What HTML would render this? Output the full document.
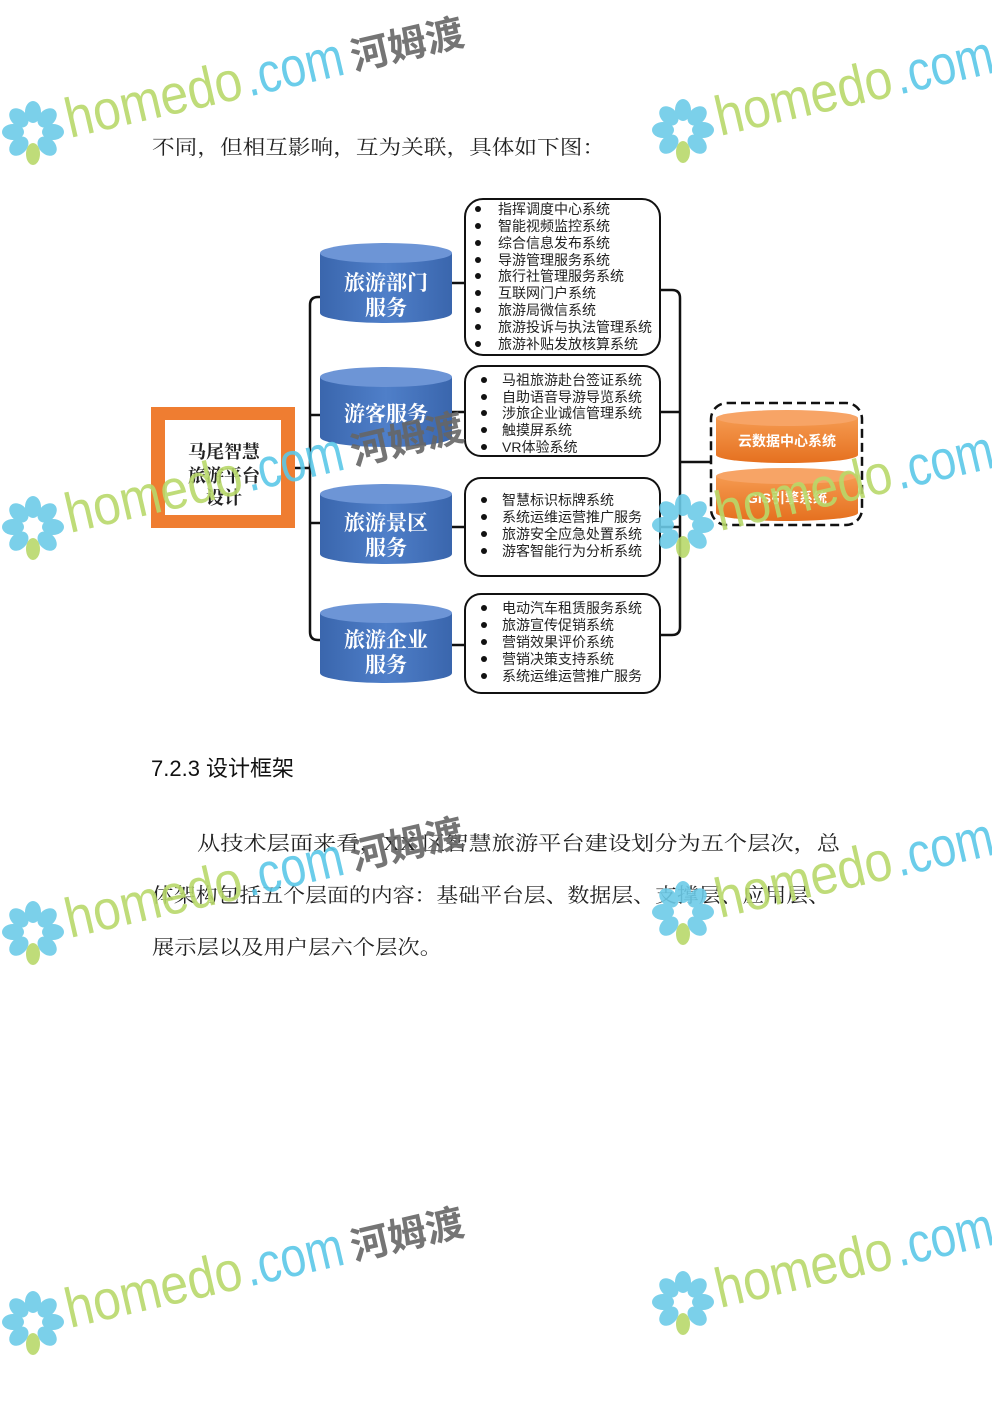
<!DOCTYPE html>
<html><head><meta charset="utf-8"><style>
html,body{margin:0;padding:0;background:#fff;}
body{width:992px;height:1403px;position:relative;overflow:hidden;}
svg{position:absolute;left:0;top:0;}
.s{font-family:"Liberation Serif","Noto Serif CJK SC",serif;}
.a{font-family:"Liberation Sans","Noto Sans CJK SC",sans-serif;}
</style></head><body>
<svg width="992" height="1403" viewBox="0 0 992 1403">
<defs>
<linearGradient id="bl" x1="0" x2="1" y1="0" y2="0">
<stop offset="0" stop-color="#3a66ad"/><stop offset="0.5" stop-color="#4f7fc9"/><stop offset="1" stop-color="#3a66ad"/></linearGradient>
<linearGradient id="or" x1="0" x2="0" y1="0" y2="1">
<stop offset="0" stop-color="#f59a50"/><stop offset="1" stop-color="#e5701f"/></linearGradient>
<g id="flower">
<g fill="#6ccbe8">
<ellipse cx="0" cy="-20" rx="8" ry="11"/>
<ellipse cx="0" cy="-20" rx="8" ry="11" transform="rotate(45)"/>
<ellipse cx="0" cy="-20" rx="8" ry="11" transform="rotate(90)"/>
<ellipse cx="0" cy="-20" rx="8" ry="11" transform="rotate(135)"/>
<ellipse cx="0" cy="-20" rx="8" ry="11" transform="rotate(225)"/>
<ellipse cx="0" cy="-20" rx="8" ry="11" transform="rotate(270)"/>
<ellipse cx="0" cy="-20" rx="8" ry="11" transform="rotate(315)"/>
</g>
<ellipse cx="0" cy="22" rx="7" ry="11" fill="#b8d86a"/>
</g>
<g id="wmL" class="a">
<text font-size="56" fill="#b8d86a" textLength="180" lengthAdjust="spacingAndGlyphs">homedo</text>
<text x="184" font-size="56" fill="#5bc8e8" textLength="100" lengthAdjust="spacingAndGlyphs">.com</text>
<text x="292" y="-2" font-size="38" font-weight="bold" fill="#666" textLength="115" lengthAdjust="spacingAndGlyphs">河姆渡</text>
</g>
<g id="wmR" class="a">
<text font-size="56" fill="#b8d86a" textLength="180" lengthAdjust="spacingAndGlyphs">homedo</text>
<text x="184" font-size="56" fill="#5bc8e8" textLength="100" lengthAdjust="spacingAndGlyphs">.com</text>
</g>
</defs>

<!-- body text -->
<text class="s" x="152" y="154" font-size="20" fill="#222" textLength="453" lengthAdjust="spacingAndGlyphs">不同，但相互影响，互为关联，具体如下图：</text>
<text class="a" x="151" y="776" font-size="22" fill="#111">7.2.3 设计框架</text>
<text class="s" x="197" y="850" font-size="20" fill="#222" textLength="643" lengthAdjust="spacingAndGlyphs">从技术层面来看，XX 区智慧旅游平台建设划分为五个层次，总</text>
<text class="s" x="152" y="902" font-size="20" fill="#222" textLength="678" lengthAdjust="spacingAndGlyphs">体架构包括五个层面的内容：基础平台层、数据层、支撑层、应用层、</text>
<text class="s" x="152" y="954" font-size="20" fill="#222" textLength="290" lengthAdjust="spacingAndGlyphs">展示层以及用户层六个层次。</text>

<!-- connectors -->
<g fill="none" stroke="#111" stroke-width="2.5">
<path d="M322 297 H318 Q310 297 310 305 V632 Q310 640 318 640 H322"/>
<line x1="295" y1="468" x2="310" y2="468"/>
<line x1="310" y1="415" x2="322" y2="415"/>
<line x1="310" y1="523" x2="322" y2="523"/>
<line x1="452" y1="283" x2="465" y2="283"/>
<line x1="452" y1="412" x2="465" y2="412"/>
<line x1="452" y1="527" x2="465" y2="527"/>
<line x1="452" y1="645" x2="465" y2="645"/>
<path d="M660 290 H672 Q680 290 680 298 V627 Q680 635 672 635 H660"/>
<line x1="660" y1="412" x2="680" y2="412"/>
<line x1="660" y1="527" x2="680" y2="527"/>
<line x1="680" y1="462" x2="711" y2="462"/>
</g>

<!-- central box -->
<rect x="151" y="407" width="144" height="121" fill="#ef7d31"/>
<rect x="165" y="420" width="116" height="95" fill="#fff"/>
<g class="s" font-size="18" font-weight="bold" fill="#222" text-anchor="middle">
<text x="224" y="458">马尾智慧</text><text x="224" y="482">旅游平台</text><text x="224" y="504">设计</text>
</g>

<!-- cylinders -->
<g>
<path d="M320 253 V313 A66 10 0 0 0 452 313 V253" fill="url(#bl)"/><ellipse cx="386" cy="253" rx="66" ry="10" fill="#6d95d6"/>
<path d="M320 377 V437 A66 10 0 0 0 452 437 V377" fill="url(#bl)"/><ellipse cx="386" cy="377" rx="66" ry="10" fill="#6d95d6"/>
<path d="M320 494 V554 A66 10 0 0 0 452 554 V494" fill="url(#bl)"/><ellipse cx="386" cy="494" rx="66" ry="10" fill="#6d95d6"/>
<path d="M320 613 V673 A66 10 0 0 0 452 673 V613" fill="url(#bl)"/><ellipse cx="386" cy="613" rx="66" ry="10" fill="#6d95d6"/>
</g>
<g class="s" font-size="21" font-weight="bold" fill="#fff" text-anchor="middle">
<text x="386" y="290">旅游部门</text><text x="386" y="315">服务</text>
<text x="386" y="421">游客服务</text>
<text x="386" y="530">旅游景区</text><text x="386" y="555">服务</text>
<text x="386" y="647">旅游企业</text><text x="386" y="672">服务</text>
</g>

<!-- list boxes -->
<g fill="#fff" stroke="#111" stroke-width="2">
<rect x="465" y="199" width="195" height="156" rx="18"/>
<rect x="465" y="366" width="195" height="90" rx="16"/>
<rect x="465" y="478" width="195" height="98" rx="16"/>
<rect x="465" y="594" width="195" height="99" rx="16"/>
</g>
<g class="a" font-size="14" fill="#222">
<g fill="#111"><circle cx="478" cy="209" r="3"/><circle cx="478" cy="226" r="3"/><circle cx="478" cy="243" r="3"/><circle cx="478" cy="260" r="3"/><circle cx="478" cy="276" r="3"/><circle cx="478" cy="293" r="3"/><circle cx="478" cy="310" r="3"/><circle cx="478" cy="327" r="3"/><circle cx="478" cy="344" r="3"/></g>
<text x="498" y="214">指挥调度中心系统</text>
<text x="498" y="231">智能视频监控系统</text>
<text x="498" y="248">综合信息发布系统</text>
<text x="498" y="265">导游管理服务系统</text>
<text x="498" y="281">旅行社管理服务系统</text>
<text x="498" y="298">互联网门户系统</text>
<text x="498" y="315">旅游局微信系统</text>
<text x="498" y="332">旅游投诉与执法管理系统</text>
<text x="498" y="349">旅游补贴发放核算系统</text>
<g fill="#111"><circle cx="484" cy="380" r="3"/><circle cx="484" cy="397" r="3"/><circle cx="484" cy="413" r="3"/><circle cx="484" cy="430" r="3"/><circle cx="484" cy="447" r="3"/></g>
<text x="502" y="385">马祖旅游赴台签证系统</text>
<text x="502" y="402">自助语音导游导览系统</text>
<text x="502" y="418">涉旅企业诚信管理系统</text>
<text x="502" y="435">触摸屏系统</text>
<text x="502" y="452">VR体验系统</text>
<g fill="#111"><circle cx="484" cy="500" r="3"/><circle cx="484" cy="517" r="3"/><circle cx="484" cy="534" r="3"/><circle cx="484" cy="551" r="3"/></g>
<text x="502" y="505">智慧标识标牌系统</text>
<text x="502" y="522">系统运维运营推广服务</text>
<text x="502" y="539">旅游安全应急处置系统</text>
<text x="502" y="556">游客智能行为分析系统</text>
<g fill="#111"><circle cx="484" cy="608" r="3"/><circle cx="484" cy="625" r="3"/><circle cx="484" cy="642" r="3"/><circle cx="484" cy="659" r="3"/><circle cx="484" cy="676" r="3"/></g>
<text x="502" y="613">电动汽车租赁服务系统</text>
<text x="502" y="630">旅游宣传促销系统</text>
<text x="502" y="647">营销效果评价系统</text>
<text x="502" y="664">营销决策支持系统</text>
<text x="502" y="681">系统运维运营推广服务</text>
</g>

<!-- dashed box -->
<rect x="711" y="403" width="151" height="122" rx="16" fill="#fff" stroke="#111" stroke-width="2.5" stroke-dasharray="9,5"/>
<path d="M716 418 V455 A71 8 0 0 0 858 455 V418" fill="url(#or)"/><ellipse cx="787" cy="418" rx="71" ry="8" fill="#f7a466"/>
<path d="M716 476 V513 A71 8 0 0 0 858 513 V476" fill="url(#or)"/><ellipse cx="787" cy="476" rx="71" ry="8" fill="#f7a466"/>
<g class="a" font-size="14" font-weight="bold" fill="#fff" text-anchor="middle">
<text x="787" y="446">云数据中心系统</text><text x="787" y="503">GIS引擎系统</text>
</g>

<!-- watermarks -->
<g opacity="0.9">
<g transform="translate(33,132)"><use href="#flower"/></g>
<g transform="translate(70,138) rotate(-13)"><use href="#wmL"/></g>
<g transform="translate(683,130)"><use href="#flower"/></g>
<g transform="translate(720,136) rotate(-13)"><use href="#wmR"/></g>

<g transform="translate(33,527)"><use href="#flower"/></g>
<g transform="translate(70,533) rotate(-13)"><use href="#wmL"/></g>
<g transform="translate(683,525)"><use href="#flower"/></g>
<g transform="translate(720,531) rotate(-13)"><use href="#wmR"/></g>

<g transform="translate(33,932)"><use href="#flower"/></g>
<g transform="translate(70,938) rotate(-13)"><use href="#wmL"/></g>
<g transform="translate(683,912)"><use href="#flower"/></g>
<g transform="translate(720,918) rotate(-13)"><use href="#wmR"/></g>

<g transform="translate(33,1322)"><use href="#flower"/></g>
<g transform="translate(70,1328) rotate(-13)"><use href="#wmL"/></g>
<g transform="translate(683,1302)"><use href="#flower"/></g>
<g transform="translate(720,1308) rotate(-13)"><use href="#wmR"/></g>
</g>
</svg>
</body></html>
